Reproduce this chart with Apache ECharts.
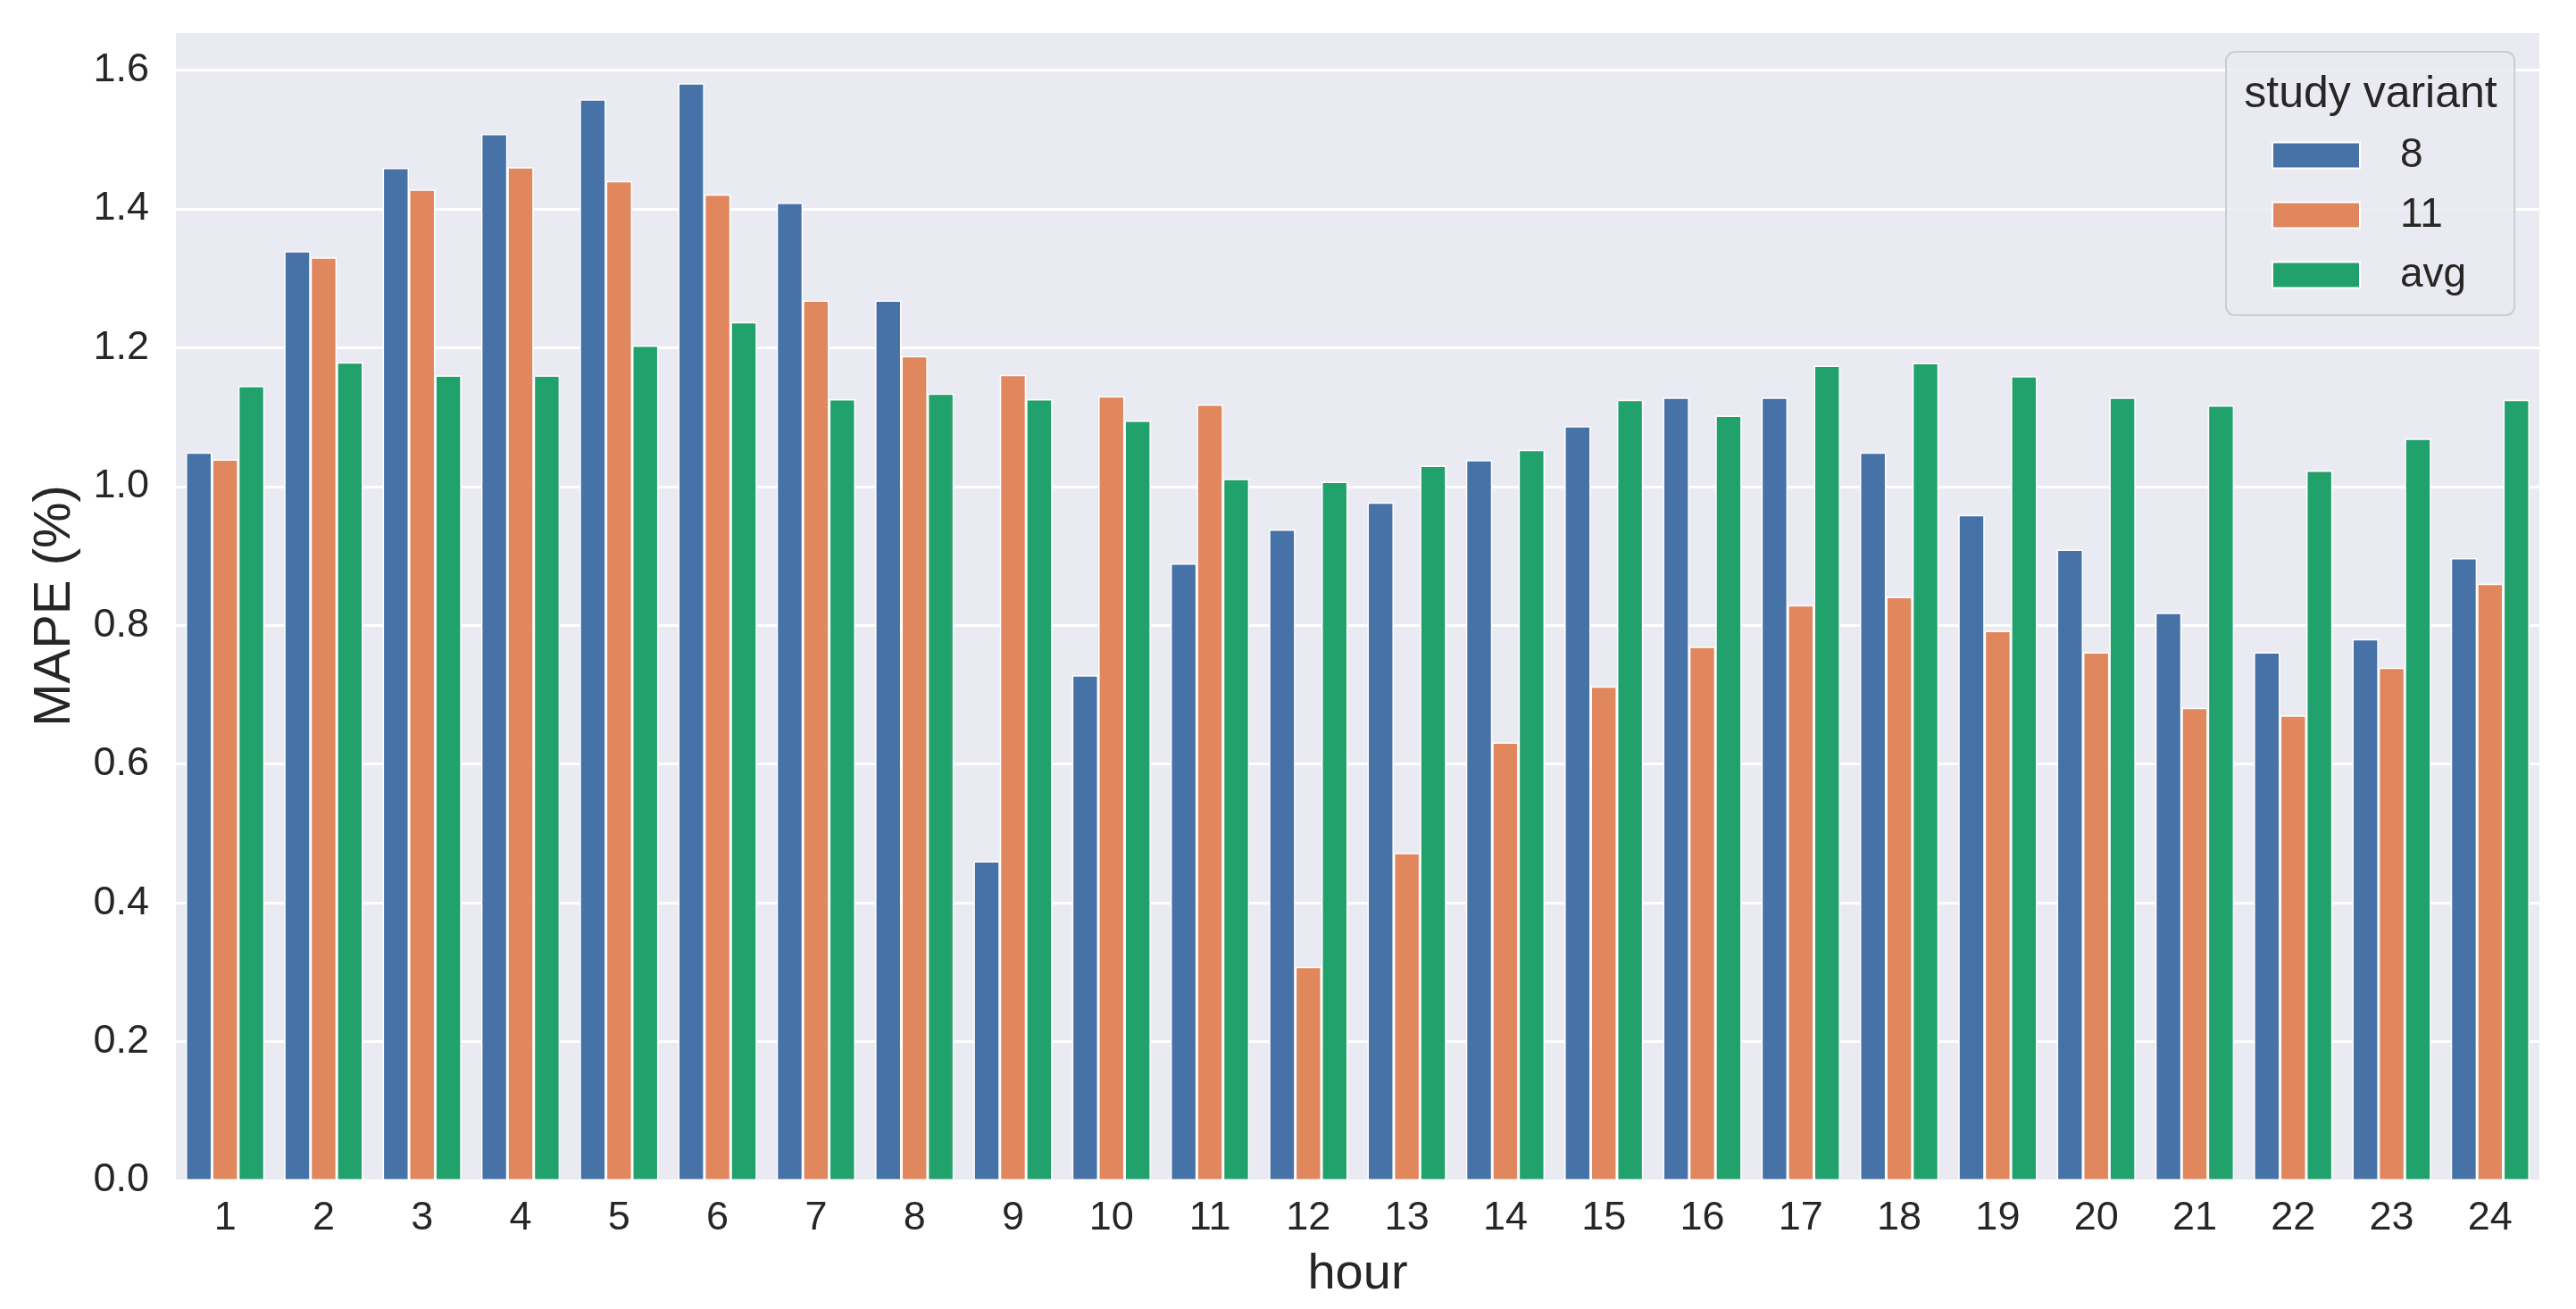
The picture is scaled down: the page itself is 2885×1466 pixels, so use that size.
<!DOCTYPE html>
<html>
<head>
<meta charset="utf-8">
<script src="https://cdn.jsdelivr.net/npm/echarts@6/dist/echarts.min.js"></script>
<style>
html,body{margin:0;padding:0;background:#fff;}
#chart{width:2885px;height:1466px;}
</style>
</head>
<body>
<div id="chart"></div>
<script>
const hours = ['1','2','3','4','5','6','7','8','9','10','11','12','13','14','15','16','17','18','19','20','21','22','23','24'];
const seriesNames = ['8','11','avg'];
const variant8 = [1.049,1.339,1.459,1.508,1.558,1.581,1.409,1.268,0.460,0.728,0.889,0.938,0.977,1.038,1.087,1.128,1.128,1.049,0.959,0.909,0.818,0.761,0.780,0.897];
const variant11 = [1.039,1.330,1.428,1.460,1.440,1.421,1.268,1.188,1.161,1.130,1.118,0.308,0.472,0.631,0.712,0.769,0.829,0.841,0.792,0.761,0.681,0.670,0.739,0.860];
const variantAvg = [1.145,1.179,1.160,1.160,1.203,1.237,1.126,1.134,1.126,1.095,1.011,1.007,1.030,1.053,1.125,1.102,1.174,1.178,1.159,1.128,1.117,1.023,1.069,1.125];
const yTicks = [0.0,0.2,0.4,0.6,0.8,1.0,1.2,1.4,1.6];

const colors = ['#4672A8','#E1875E','#21A16B'];
const FONT = '"Liberation Sans", Arial, Helvetica, sans-serif';
const TXT = '#262626';

const chart = echarts.init(document.getElementById('chart'), null, {renderer:'canvas'});
const dataSets = [variant8, variant11, variantAvg];

const option = {
  backgroundColor: '#ffffff',
  animation: false,
  textStyle: {fontFamily: FONT},
  grid: {
    left: 197, right: 41, top: 35, bottom: 144,
    show: true, backgroundColor: '#EAEAF2', borderWidth: 0
  },
  graphic: [{
    type: 'text', z: 100,
    x: 2655, y: 106,
    style: {text: 'study variant', font: '50px ' + FONT, fill: TXT, textAlign: 'center', textVerticalAlign: 'middle'}
  }],
  legend: {
    data: seriesNames,
    orient: 'vertical',
    left: 2493, top: 58,
    padding: [93, 54, 22, 51],
    backgroundColor: 'rgba(234,234,242,0.85)',
    borderColor: '#CCCCD4', borderWidth: 2, borderRadius: 10,
    itemWidth: 98, itemHeight: 29, itemGap: 21,
    icon: 'rect',
    textStyle: {fontFamily: FONT, fontSize: 46, color: TXT, padding: [0,0,0,40]},
    z: 50
  },
  xAxis: {
    type: 'category', data: hours,
    name: 'hour', nameLocation: 'middle', nameGap: 78,
    nameTextStyle: {fontFamily: FONT, fontSize: 56, color: TXT},
    axisLine: {show: false}, axisTick: {show: false},
    axisLabel: {fontFamily: FONT, fontSize: 45, color: TXT, margin: 20},
    splitLine: {show: false}
  },
  yAxis: {
    type: 'value', min: 0, max: 1.656, interval: 0.2,
    name: 'MAPE (%)', nameLocation: 'middle', nameGap: 106,
    nameTextStyle: {fontFamily: FONT, fontSize: 58, color: TXT},
    axisLine: {show: false}, axisTick: {show: false},
    axisLabel: {fontFamily: FONT, fontSize: 45, color: TXT, margin: 30,
      formatter: v => (yTicks.some(t => Math.abs(t - v) < 1e-6) ? v.toFixed(1) : '')},
    splitLine: {show: true, lineStyle: {color: '#FFFFFF', width: 3}}
  },
  series: seriesNames.map((n, i) => ({
    name: n, type: 'bar', data: dataSets[i],
    barGap: '0%', barCategoryGap: '20%',
    itemStyle: {color: colors[i], borderColor: '#FFFFFF', borderWidth: 1.5},
    emphasis: {disabled: true}
  }))
};
chart.setOption(option);
</script>
</body>
</html>
